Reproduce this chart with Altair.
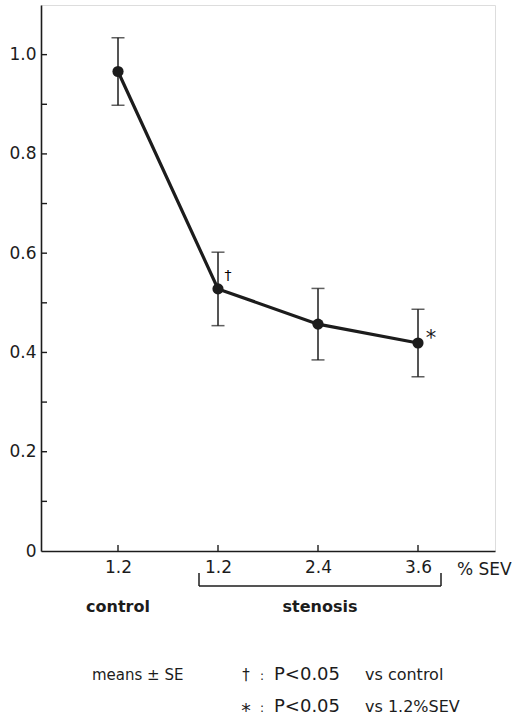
import altair as alt
import pandas as pd

# ---- data ----
positions = [1, 2, 3, 4]
sev_labels = ["1.2", "1.2", "2.4", "3.6"]
means = [0.966, 0.528, 0.457, 0.419]
se = [0.068, 0.074, 0.072, 0.068]
y_tick_values = [0.1, 0.2, 0.3, 0.4, 0.5, 0.6, 0.7, 0.8, 0.9, 1.0]
y_label_values = [0, 0.2, 0.4, 0.6, 0.8, 1.0]
group_labels = ["control", "stenosis"]
stenosis_span = [1.81, 4.23]
note_rows = [["\u2020", ":", "P<0.05", "vs  control"],
             ["*", ":", "P<0.05", "vs 1.2%SEV"]]

FONT = "DejaVu Sans"
INK = "#1c1c1c"
W, H = 454, 546

df = pd.DataFrame({
    "pos": positions,
    "mean": means,
    "lo": [m - s for m, s in zip(means, se)],
    "hi": [m + s for m, s in zip(means, se)],
})

xs = alt.Scale(domain=[0.23, 4.77], nice=False, zero=False)
ys = alt.Scale(domain=[0, 1.1], nice=False, zero=False)

label_list = "[" + ",".join("'%s'" % s for s in sev_labels) + "]"
x_axis = alt.Axis(values=positions, labelExpr=label_list + "[datum.value-1]",
                  ticks=False, grid=False, title=None, domainColor=INK, domainWidth=1.6,
                  labelFont=FONT, labelFontSize=17, labelColor=INK, labelPadding=8)
y_axis = alt.Axis(values=y_label_values,
                  labelExpr="datum.value == 0 ? '0' : format(datum.value, '.1f')",
                  ticks=False, grid=False, title=None, domainColor=INK, domainWidth=1.6,
                  labelFont=FONT, labelFontSize=17, labelColor=INK, labelPadding=5)

base = alt.Chart(df)

axes = base.mark_point(opacity=0).encode(
    x=alt.X("pos:Q", scale=xs, axis=x_axis),
    y=alt.Y("mean:Q", scale=ys, axis=y_axis),
)

ytick_df = pd.DataFrame({"v": y_tick_values})
yticks = alt.Chart(ytick_df).mark_rule(color=INK, strokeWidth=1.4).encode(
    y=alt.Y("v:Q", scale=ys), x=alt.value(0), x2=alt.value(6))
xticks = base.mark_rule(color=INK, strokeWidth=1.4).encode(
    x=alt.X("pos:Q", scale=xs), y=alt.value(H), y2=alt.value(H - 6))

bars = base.mark_rule(color=INK, strokeWidth=1.5).encode(
    x=alt.X("pos:Q", scale=xs), y=alt.Y("lo:Q", scale=ys), y2="hi:Q")
cap_lo = base.mark_tick(color=INK, orient="horizontal", size=13, thickness=1.5).encode(
    x=alt.X("pos:Q", scale=xs), y=alt.Y("lo:Q", scale=ys))
cap_hi = base.mark_tick(color=INK, orient="horizontal", size=13, thickness=1.5).encode(
    x=alt.X("pos:Q", scale=xs), y=alt.Y("hi:Q", scale=ys))

line = base.mark_line(color=INK, strokeWidth=3.2).encode(
    x=alt.X("pos:Q", scale=xs), y=alt.Y("mean:Q", scale=ys))
pts = base.mark_circle(color=INK, opacity=1, size=125).encode(
    x=alt.X("pos:Q", scale=xs), y=alt.Y("mean:Q", scale=ys))

dag = alt.Chart(df[df.pos == 2]).mark_text(
    text="\u2020", font=FONT, fontSize=14, color="#000000", dx=10, dy=-13).encode(
    x=alt.X("pos:Q", scale=xs), y=alt.Y("mean:Q", scale=ys))
star = alt.Chart(df[df.pos == 4]).mark_text(
    text="*", font=FONT, fontSize=21, color=INK, dx=13, dy=-4).encode(
    x=alt.X("pos:Q", scale=xs), y=alt.Y("mean:Q", scale=ys))

def txt(s, x, y, size=16, align="left", weight="normal"):
    return alt.Chart(pd.DataFrame({"t": [s]})).mark_text(
        font=FONT, fontSize=size, color=INK, align=align, baseline="alphabetic",
        fontWeight=weight).encode(text="t:N", x=alt.value(x), y=alt.value(y))

sev = txt("% SEV", 416, 570, 17)
ctrl = alt.Chart(pd.DataFrame({"t": [group_labels[0]], "pos": [positions[0]]})).mark_text(
    font=FONT, fontSize=16, fontWeight="bold", color=INK, baseline="alphabetic").encode(
    text="t:N", x=alt.X("pos:Q", scale=xs), y=alt.value(607))
sten_df = pd.DataFrame({"t": [group_labels[1]], "a": [stenosis_span[0]], "b": [stenosis_span[1]],
                        "mid": [sum(stenosis_span) / 2]})
sten = alt.Chart(sten_df).mark_text(
    font=FONT, fontSize=16, fontWeight="bold", color=INK, baseline="alphabetic").encode(
    text="t:N", x=alt.X("mid:Q", scale=xs), y=alt.value(607))
br_h = alt.Chart(sten_df).mark_rule(color=INK, strokeWidth=1.5).encode(
    x=alt.X("a:Q", scale=xs), x2="b:Q", y=alt.value(581))
br_l = alt.Chart(sten_df).mark_rule(color=INK, strokeWidth=1.5).encode(
    x=alt.X("a:Q", scale=xs), y=alt.value(568), y2=alt.value(581))
br_r = alt.Chart(sten_df).mark_rule(color=INK, strokeWidth=1.5).encode(
    x=alt.X("b:Q", scale=xs), y=alt.value(568), y2=alt.value(581))

notes = [txt("means \u00b1 SE", 51, 675, 15)]
for row, yy in zip(note_rows, [675, 707]):
    sym, col, p, vs = row
    notes.append(txt(sym, 205, yy + (0 if sym != "*" else 5), 15 if sym != "*" else 19, "center"))
    notes.append(txt(col, 221, yy, 12, "center"))
    notes.append(txt(p, 233, yy, 18))
    notes.append(txt(vs, 324, yy, 16))

chart = alt.layer(
    axes, yticks, xticks, bars, cap_lo, cap_hi, line, pts, dag, star,
    sev, ctrl, sten, br_h, br_l, br_r, *notes
).properties(
    width=W, height=H,
    autosize=alt.AutoSizeParams(type="none"),
    padding={"left": 41, "top": 5, "right": 22, "bottom": 169},
).configure_view(stroke=None).configure(background="white")

chart.save("out.html", embed_options={"renderer": "svg", "actions": False})
